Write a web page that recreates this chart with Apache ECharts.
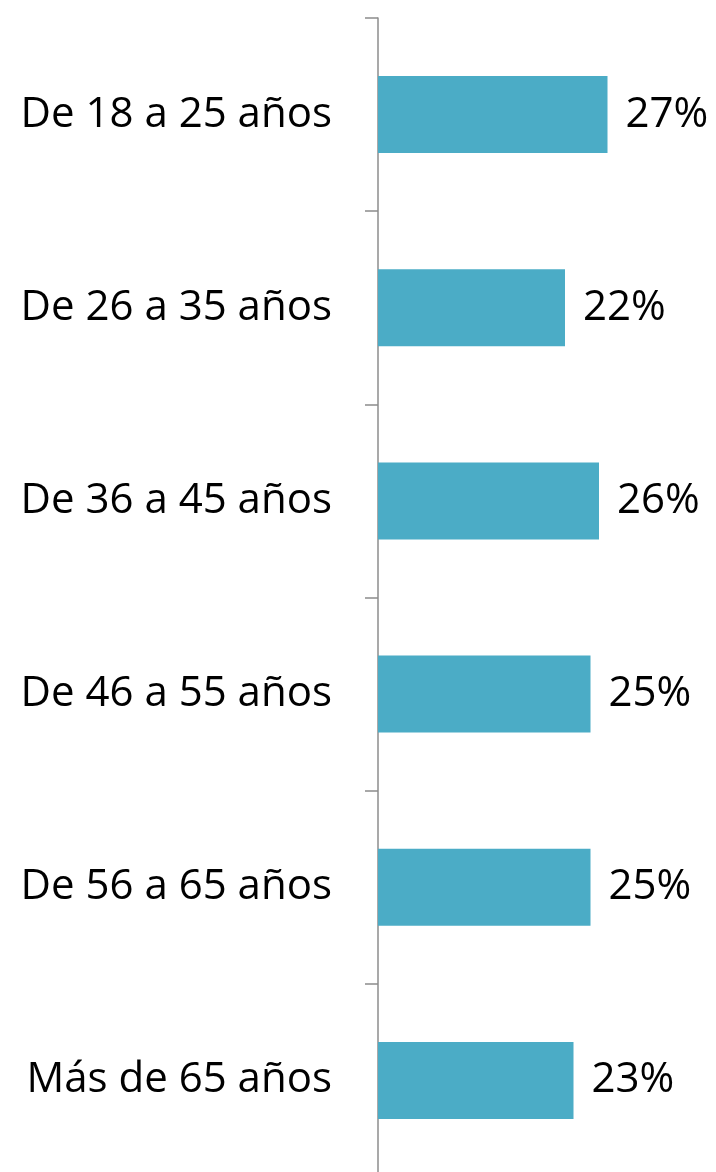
<!DOCTYPE html>
<html>
<head>
<meta charset="utf-8">
<script src="https://cdn.jsdelivr.net/npm/echarts@6/dist/echarts.min.js"></script>
<style>
  html, body { margin: 0; padding: 0; background: #ffffff; }
  #chart { width: 716px; height: 1172px; }
</style>
</head>
<body>
<div id="chart"></div>
<script>
// Age groups, top to bottom
const categories = [
  'De 18 a 25 años',
  'De 26 a 35 años',
  'De 36 a 45 años',
  'De 46 a 55 años',
  'De 56 a 65 años',
  'Más de 65 años'
];
// Share of respondents per age group (%)
const shares = [27, 22, 26, 25, 25, 23];

const chart = echarts.init(document.getElementById('chart'));
const fontFamily = '"Open Sans", "Liberation Sans", sans-serif';

chart.setOption({
  animation: false,
  grid: {
    left: 378, top: 18, width: 340, height: 1159,
    containLabel: false,
    outerBoundsMode: 'none'
  },
  xAxis: {
    type: 'value',
    min: 0,
    max: 40,
    show: false
  },
  yAxis: {
    type: 'category',
    data: categories,
    inverse: true,
    axisLine: { show: true, lineStyle: { color: '#8c8c8c', width: 1.5 } },
    axisTick: { show: true, length: 13, lineStyle: { color: '#8c8c8c', width: 1.5 } },
    axisLabel: {
      margin: 46,
      color: '#000000',
      fontSize: 42,
      fontFamily: fontFamily
    },
    splitLine: { show: false }
  },
  series: [{
    type: 'bar',
    data: shares,
    barWidth: 77,
    itemStyle: { color: '#4BACC6' },
    label: {
      show: true,
      position: 'right',
      distance: 18,
      formatter: '{c}%',
      color: '#000000',
      fontSize: 42,
      fontFamily: fontFamily
    }
  }]
});
</script>
</body>
</html>
